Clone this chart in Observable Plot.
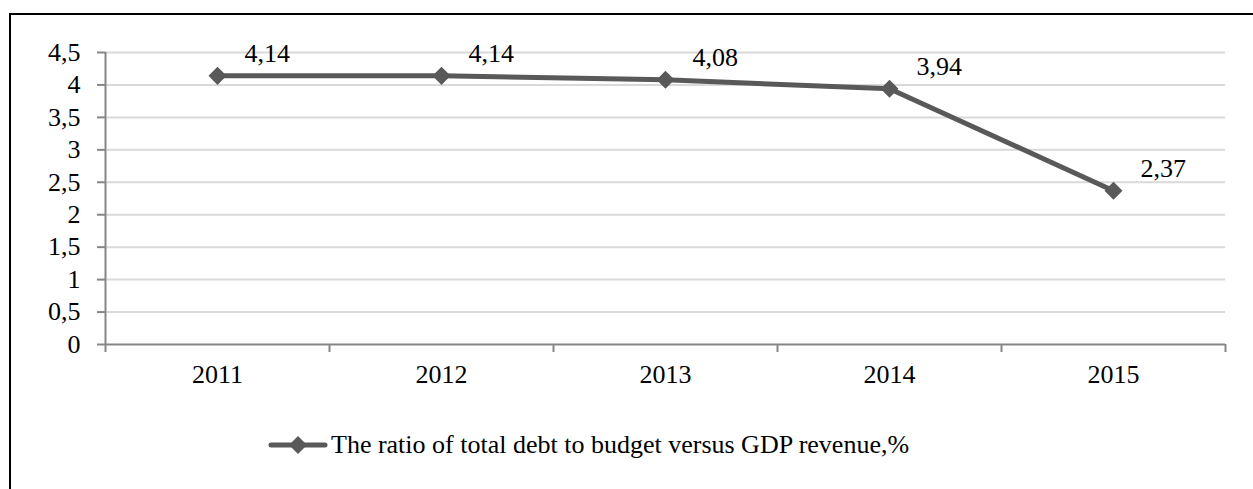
<!DOCTYPE html>
<html>
<head>
<meta charset="utf-8">
<script src="https://cdn.jsdelivr.net/npm/d3@7"></script>
<script src="https://cdn.jsdelivr.net/npm/@observablehq/plot@0.6"></script>
<style>
  html, body { margin: 0; padding: 0; background: #fff; }
  #wrap { position: relative; width: 1253px; height: 489px; overflow: hidden; font-family: "Liberation Serif", "Times New Roman", serif; }
  #frame { position: absolute; left: 9px; top: 13px; width: 1260px; height: 500px; border-left: 2px solid #000; border-top: 2px solid #000; box-sizing: border-box; }
  #chart { position: absolute; left: 0; top: 0; }
  #legend { position: absolute; left: 268px; top: 431px; height: 28px; display: flex; align-items: center; font-size: 26px; color: #000; white-space: nowrap; }
  #legend svg { display: block; margin-right: 3px; }
</style>
</head>
<body>
<div id="wrap">
  <div id="frame"></div>
  <div id="chart"></div>
  <div id="legend"></div>
</div>
<script>
const years = [2011, 2012, 2013, 2014, 2015];
const values = [4.14, 4.14, 4.08, 3.94, 2.37];
const yTicks = [0, 0.5, 1, 1.5, 2, 2.5, 3, 3.5, 4, 4.5];
const seriesName = "The ratio of total debt to budget versus GDP revenue,%";

const data = years.map((year, i) => ({year, value: values[i]}));
const boundaries = [years[0] - 0.5, ...years.map(y => y + 0.5)];
const fmt = d => String(d).replace(".", ",");

const lineColor = "#595959";
const axisColor = "#868686";
const gridColor = "#d9d9d9";
const fontFamily = "'Liberation Serif', 'Times New Roman', serif";

const chart = Plot.plot({
  width: 1253,
  height: 400,
  marginLeft: 105,
  marginRight: 28,
  marginTop: 52,
  marginBottom: 56,
  style: {fontFamily, fontSize: "26px", color: "#000", background: "transparent", overflow: "visible"},
  x: {type: "linear", domain: [boundaries[0], boundaries[boundaries.length - 1]]},
  y: {domain: [0, 4.5]},
  marks: [
    Plot.gridY(yTicks.filter(d => d > 0), {stroke: gridColor, strokeOpacity: 1, strokeWidth: 2}),
    Plot.axisY(yTicks, {tickSize: 8, tickPadding: 17, tickFormat: fmt, stroke: axisColor, strokeWidth: 2, label: null, fontSize: 26, fontFamily}),
    Plot.axisX(boundaries, {tickSize: 8, tickFormat: () => "", stroke: axisColor, strokeWidth: 2, label: null}),
    Plot.axisX(years, {tickSize: 0, tickPadding: 20, tickFormat: d => String(d), label: null, fontSize: 26, fontFamily}),
    Plot.ruleY([0], {stroke: axisColor, strokeWidth: 2}),
    Plot.ruleX([boundaries[0]], {y1: 0, y2: 4.5, stroke: axisColor, strokeWidth: 2}),
    Plot.line(data, {x: "year", y: "value", stroke: lineColor, strokeWidth: 5}),
    Plot.dot(data, {x: "year", y: "value", symbol: "square", r: 7.2, rotate: 45, fill: lineColor, stroke: "none"}),
    Plot.text(data, {x: "year", y: "value", text: d => fmt(d.value), textAnchor: "start", dx: 27, dy: -22, fontSize: 26, fontFamily, fill: "#000"})
  ]
});
document.getElementById("chart").appendChild(chart);

// legend
const legend = document.getElementById("legend");
const sw = d3.create("svg").attr("width", 60).attr("height", 28);
sw.append("line").attr("x1", 3).attr("x2", 57).attr("y1", 14).attr("y2", 14)
  .attr("stroke", lineColor).attr("stroke-width", 5).attr("stroke-linecap", "round");
sw.append("rect").attr("x", -6.35).attr("y", -6.35).attr("width", 12.7).attr("height", 12.7)
  .attr("fill", lineColor).attr("transform", "translate(30,14) rotate(45)");
legend.appendChild(sw.node());
const lt = document.createElement("span");
lt.textContent = seriesName;
legend.appendChild(lt);
</script>
</body>
</html>
